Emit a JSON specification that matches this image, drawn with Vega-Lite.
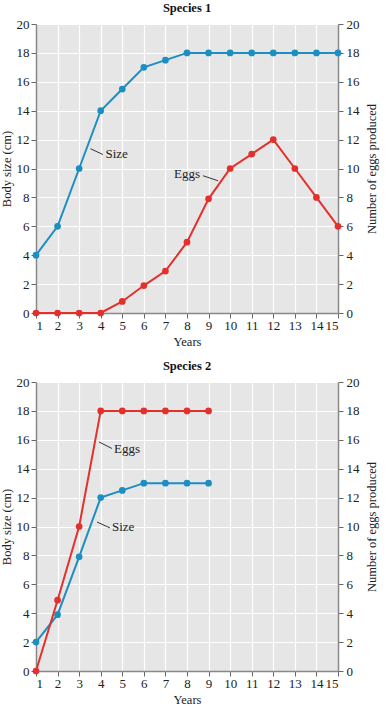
{
  "$schema": "https://vega.github.io/schema/vega-lite/v6.json",
  "padding": {"left": 0, "top": 1, "right": 2, "bottom": 2},
  "spacing": 11,
  "config": {
    "font": "Liberation Serif",
    "view": {"fill": "#e6e6e6", "stroke": null},
    "axis": {
      "labelFont": "Liberation Serif", "labelFontSize": 13, "labelColor": "#222", "labelOverlap": false,
      "titleFont": "Liberation Serif", "titleFontSize": 12.5, "titleFontWeight": "normal", "titleColor": "#222",
      "domainColor": "#888", "domainWidth": 1.5, "tickColor": "#666", "tickSize": 5,
      "gridColor": "#ffffff", "gridWidth": 1.2
    },
    "title": {"font": "Liberation Serif", "fontSize": 12.5, "fontWeight": "bold", "color": "#111", "anchor": "middle", "offset": 4}
  },
  "datasets": {
    "s1": [
      {"year": 1, "size": 4, "eggs": 0},
      {"year": 2, "size": 6, "eggs": 0},
      {"year": 3, "size": 10, "eggs": 0},
      {"year": 4, "size": 14, "eggs": 0},
      {"year": 5, "size": 15.5, "eggs": 0.8},
      {"year": 6, "size": 17, "eggs": 1.9},
      {"year": 7, "size": 17.5, "eggs": 2.9},
      {"year": 8, "size": 18, "eggs": 4.9},
      {"year": 9, "size": 18, "eggs": 7.9},
      {"year": 10, "size": 18, "eggs": 10},
      {"year": 11, "size": 18, "eggs": 11},
      {"year": 12, "size": 18, "eggs": 12},
      {"year": 13, "size": 18, "eggs": 10},
      {"year": 14, "size": 18, "eggs": 8},
      {"year": 15, "size": 18, "eggs": 6}
    ],
    "s2": [
      {"year": 1, "size": 2, "eggs": 0},
      {"year": 2, "size": 3.9, "eggs": 4.9},
      {"year": 3, "size": 7.9, "eggs": 10},
      {"year": 4, "size": 12, "eggs": 18},
      {"year": 5, "size": 12.5, "eggs": 18},
      {"year": 6, "size": 13, "eggs": 18},
      {"year": 7, "size": 13, "eggs": 18},
      {"year": 8, "size": 13, "eggs": 18},
      {"year": 9, "size": 13, "eggs": 18}
    ],
    "a1": [
      {"year": 4.22, "size": 11.0, "label": "Size", "year2": 3.52, "size2": 11.37, "year3": 4.1, "size3": 10.97},
      {"year": 7.4, "size": 9.6, "label": "Eggs", "year2": 8.74, "size2": 9.5, "year3": 9.44, "size3": 9.15}
    ],
    "a2": [
      {"year": 4.62, "size": 15.36, "label": "Eggs", "year2": 3.92, "size2": 15.85, "year3": 4.52, "size3": 15.4},
      {"year": 4.52, "size": 9.97, "label": "Size", "year2": 3.83, "size2": 10.31, "year3": 4.43, "size3": 9.9}
    ]
  },
  "vconcat": [
    {
      "title": "Species 1",
      "width": 302, "height": 289,
      "encoding": {
        "x": {"field": "year", "type": "quantitative", "scale": {"domain": [1, 15], "nice": false, "zero": false}, "axis": {"values": [1,2,3,4,5,6,7,8,9,10,11,12,13,14,15], "labelOverlap": false, "title": "Years", "grid": true, "labelPadding": 1, "titlePadding": 3}}
      },
      "layer": [
        {
          "encoding": {
            "y": {"field": "size", "type": "quantitative", "scale": {"domain": [0, 20], "nice": false}, "axis": {"values": [0,2,4,6,8,10,12,14,16,18,20], "labelOverlap": false, "title": "Body size (cm)", "orient": "left", "grid": true, "titlePadding": 3, "labelPadding": 2}}
          },
          "layer": [
            {
              "data": {"name": "s1"},
              "mark": {"type": "line", "color": "#1b8fc2", "strokeWidth": 2}
            },
            {
              "data": {"name": "s1"},
              "mark": {"type": "circle", "color": "#1b8fc2", "size": 45, "opacity": 1}
            },
            {
              "data": {"name": "a1"},
              "mark": {"type": "rule", "color": "#333", "strokeWidth": 1},
              "encoding": {
                "x": {"field": "year2", "type": "quantitative"},
                "y": {"field": "size2", "type": "quantitative"},
                "x2": {"field": "year3"},
                "y2": {"field": "size3"}
              }
            },
            {
              "data": {"name": "a1"},
              "mark": {"type": "text", "align": "left", "baseline": "middle", "font": "Liberation Serif", "fontSize": 13, "color": "#222"},
              "encoding": {
                "text": {"field": "label"}
              }
            }
          ]
        },
        {
          "data": {"name": "s1"},
          "encoding": {
            "y": {"field": "eggs", "type": "quantitative", "scale": {"domain": [0, 20], "nice": false}, "axis": {"values": [0,2,4,6,8,10,12,14,16,18,20], "labelOverlap": false, "title": "Number of eggs produced", "orient": "right", "grid": false, "titleAngle": 270, "titleBaseline": "top", "titlePadding": 6, "labelPadding": 3}}
          },
          "layer": [
            {
              "mark": {"type": "line", "color": "#e3302c", "strokeWidth": 2}
            },
            {
              "mark": {"type": "circle", "color": "#e3302c", "size": 45, "opacity": 1}
            }
          ]
        }
      ],
      "resolve": {"scale": {"y": "independent"}}
    },
    {
      "title": "Species 2",
      "width": 302, "height": 289,
      "encoding": {
        "x": {"field": "year", "type": "quantitative", "scale": {"domain": [1, 15], "nice": false, "zero": false}, "axis": {"values": [1,2,3,4,5,6,7,8,9,10,11,12,13,14,15], "labelOverlap": false, "title": "Years", "grid": true, "labelPadding": 1, "titlePadding": 3}}
      },
      "layer": [
        {
          "encoding": {
            "y": {"field": "size", "type": "quantitative", "scale": {"domain": [0, 20], "nice": false}, "axis": {"values": [0,2,4,6,8,10,12,14,16,18,20], "labelOverlap": false, "title": "Body size (cm)", "orient": "left", "grid": true, "titlePadding": 3, "labelPadding": 2}}
          },
          "layer": [
            {
              "data": {"name": "s2"},
              "mark": {"type": "line", "color": "#1b8fc2", "strokeWidth": 2}
            },
            {
              "data": {"name": "s2"},
              "mark": {"type": "circle", "color": "#1b8fc2", "size": 45, "opacity": 1}
            },
            {
              "data": {"name": "a2"},
              "mark": {"type": "rule", "color": "#333", "strokeWidth": 1},
              "encoding": {
                "x": {"field": "year2", "type": "quantitative"},
                "y": {"field": "size2", "type": "quantitative"},
                "x2": {"field": "year3"},
                "y2": {"field": "size3"}
              }
            },
            {
              "data": {"name": "a2"},
              "mark": {"type": "text", "align": "left", "baseline": "middle", "font": "Liberation Serif", "fontSize": 13, "color": "#222"},
              "encoding": {
                "text": {"field": "label"}
              }
            }
          ]
        },
        {
          "data": {"name": "s2"},
          "encoding": {
            "y": {"field": "eggs", "type": "quantitative", "scale": {"domain": [0, 20], "nice": false}, "axis": {"values": [0,2,4,6,8,10,12,14,16,18,20], "labelOverlap": false, "title": "Number of eggs produced", "orient": "right", "grid": false, "titleAngle": 270, "titleBaseline": "top", "titlePadding": 6, "labelPadding": 3}}
          },
          "layer": [
            {
              "mark": {"type": "line", "color": "#e3302c", "strokeWidth": 2}
            },
            {
              "mark": {"type": "circle", "color": "#e3302c", "size": 45, "opacity": 1}
            }
          ]
        }
      ],
      "resolve": {"scale": {"y": "independent"}}
    }
  ]
}
